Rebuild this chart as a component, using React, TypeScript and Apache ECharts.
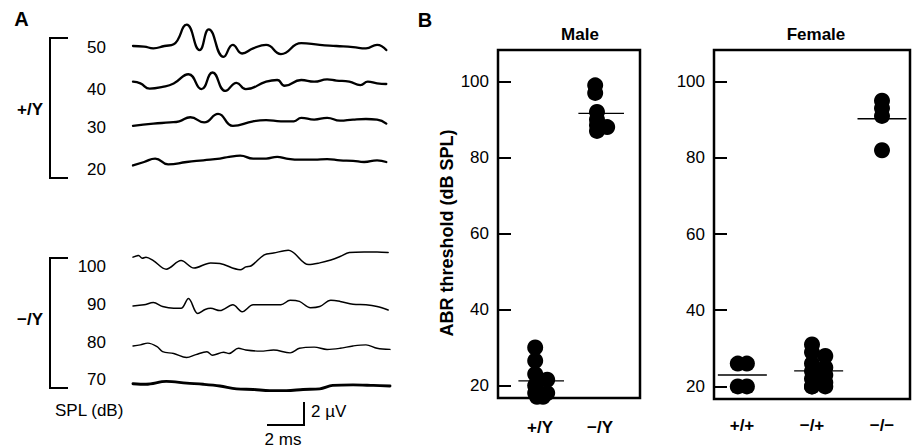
import React, { useEffect, useRef } from "react";
import * as echarts from "echarts";

const FONT = '"Liberation Sans", Arial, Helvetica, sans-serif';

// ---------- Panel A: ABR traces, points are [time (ms), amplitude (µV)] ----------
const wtLevels = ["50", "40", "30", "20"];
const koLevels = ["100", "90", "80", "70"];

const wt50 = [[0,0],[0.6,-0.05],[1.1,-0.2],[1.7,0],[2.2,0.15],[2.9,1.85],[3.6,-0.35],[4.1,1.45],[4.9,-0.95],[5.4,0.1],[5.9,-0.65],[6.5,-0.2],[7.2,0.1],[8.0,-0.7],[9.1,0.25],[10.1,0.1],[11.0,0],[11.9,-0.1],[12.6,-0.2],[13.2,0.1],[13.7,-0.35]];
const wt40 = [[0,0.2],[0.4,0.05],[0.9,-0.4],[1.6,-0.25],[2.2,0.05],[3.0,0.85],[3.7,-0.45],[4.3,1.0],[5.0,-0.6],[5.6,0.1],[6.1,-0.45],[7.2,0.2],[7.8,0.35],[8.2,-0.15],[9.1,0.35],[9.8,0.2],[10.5,0.4],[11.0,0.3],[11.7,0.2],[12.3,-0.1],[12.7,0.2],[13.2,0.05],[13.7,0]];
const wt30 = [[0,-0.25],[1.1,-0.05],[2.0,0.05],[2.5,0.15],[3.1,0.5],[3.85,0.05],[4.6,0.8],[5.4,-0.25],[6.5,0.15],[7.2,0.25],[8.0,0.15],[8.7,0.15],[9.1,0.45],[9.8,0.3],[10.5,0.45],[11.2,0.2],[11.9,0.3],[12.6,0.35],[13.2,0.3],[13.7,-0.05]];
const wt20 = [[0,-0.3],[0.6,0],[1.2,0.3],[1.9,-0.2],[2.9,0],[3.8,0.15],[4.7,0.3],[5.2,0.45],[5.8,0.55],[6.5,0.3],[7.2,0.3],[7.8,0.45],[8.3,0.3],[9.0,0.2],[9.8,0.2],[10.5,0.25],[11.2,0.15],[11.9,0.1],[12.5,0],[13.2,0.15],[13.7,0]];

const ko100 = [[0,0.25],[0.3,0.4],[0.5,0.15],[0.7,0.25],[1.1,-0.05],[1.8,-0.8],[2.6,-0.05],[3.3,-0.7],[4.2,-0.25],[4.7,-0.3],[5.8,-0.85],[6.1,-0.6],[6.4,-0.5],[7.1,0.45],[7.6,0.6],[8.4,0.85],[9.5,-0.4],[10.1,-0.25],[10.7,0],[11.2,0.3],[11.7,0.65],[12.5,0.7],[13.2,0.7],[13.8,0.65]];
const ko90 = [[0,0],[0.6,0.1],[1.1,0.3],[1.6,-0.05],[2.2,-0.2],[2.6,-0.2],[3.0,0.65],[3.5,-0.65],[3.9,-0.3],[4.2,-0.2],[4.7,-0.4],[5.4,0.1],[5.9,-0.5],[6.5,0.1],[7.2,0.1],[8.0,0.1],[8.5,0.5],[9.0,0.4],[9.6,-0.15],[10.1,-0.05],[10.7,0.5],[11.2,0.4],[11.9,0.15],[12.6,0.1],[13.2,-0.05],[13.8,-0.35]];
const ko80 = [[0,0.35],[0.4,0.45],[0.8,0.6],[1.3,0.3],[1.6,-0.15],[2.2,-0.3],[2.9,-0.65],[3.4,-0.4],[4.0,-0.15],[4.3,-0.45],[4.9,-0.2],[5.2,-0.3],[5.7,0.15],[6.1,0],[6.9,-0.1],[7.6,0],[8.5,-0.25],[9.0,0.15],[9.8,0.25],[10.5,0.05],[11.2,0.15],[11.9,0.35],[12.6,0.45],[13.2,0.15],[13.9,0.05]];
const ko70 = [[0,0.2],[0.7,0.15],[1.8,0.4],[2.9,0.25],[3.8,0.15],[4.7,0],[5.6,-0.25],[6.5,-0.3],[7.4,-0.4],[8.3,-0.4],[9.2,-0.3],[10.1,-0.25],[10.8,0.05],[11.9,0.1],[13.0,0.05],[13.9,0]];

const wtTraces = [wt50, wt40, wt30, wt20];
const koTraces = [ko100, ko90, ko80, ko70];

// ---------- Panel B: ABR thresholds (dB SPL) ----------
const maleCategories = ["+/Y", "\u2212/Y"];
const maleWT = [30, 26.5, 23, 21.5, 20, 18, 18, 17, 17];
const maleKO = [99, 97, 92, 90, 88.5, 87, 88];
const femaleCategories = ["+/+", "\u2212/+", "\u2212/\u2212"];
const femaleWT = [26, 26, 20, 20];
const femaleHet = [31, 29, 26, 24, 22, 20, 20, 28, 25, 23, 21, 20];
const femaleKO = [95, 93, 91, 82];
const thresholdTicks = [20, 40, 60, 80, 100];

// horizontal spread of dots within a group (category units)
const maleWTSpread = [-0.08, -0.08, -0.08, 0.12, -0.08, -0.08, 0.12, -0.05, 0.05];
const maleKOSpread = [-0.08, -0.08, -0.05, -0.05, -0.05, -0.05, 0.12];
const femaleWTSpread = [-0.06, 0.07, -0.06, 0.07];
const femaleHetSpread = [0, 0, 0, 0, 0, 0, 0, 0.19, 0.19, 0.19, 0.19, 0.19];
const femaleKOSpread = [0, 0, 0, 0];

export default function App() {
  const ref = useRef<HTMLDivElement>(null);

  useEffect(() => {
    if (!ref.current) return;
    const chart = echarts.init(ref.current, undefined, { renderer: "svg" });

    const grids: any[] = [];
    const xAxes: any[] = [];
    const yAxes: any[] = [];
    const series: any[] = [];

    const traceLeft = 133;
    const traceWidth = 257;
    const traceHeight = 46;
    const wtBases = [46, 84, 123, 162];
    const koBases = [260, 306, 350, 386];
    const koWidths = [1.5, 1.5, 1.4, 2.9];

    const addTrace = (data: number[][], base: number, width: number, smooth: number) => {
      const idx = grids.length;
      grids.push({ left: traceLeft, top: base - traceHeight / 2, width: traceWidth, height: traceHeight });
      xAxes.push({ type: "value", gridIndex: idx, min: 0, max: 13.9, show: false });
      yAxes.push({ type: "value", gridIndex: idx, min: -2, max: 2, show: false });
      series.push({
        type: "line",
        xAxisIndex: idx,
        yAxisIndex: idx,
        data,
        symbol: "none",
        smooth,
        lineStyle: { color: "#000", width, cap: "round", join: "round" },
        silent: true,
      });
    };
    wtTraces.forEach((d, i) => addTrace(d, wtBases[i], 2.3, 0.5));
    koTraces.forEach((d, i) => addTrace(d, koBases[i], koWidths[i], 0.35));

    const addScatterPanel = (
      box: { left: number; top: number; width: number; height: number },
      xMin: number,
      xMax: number,
      cats: string[],
      groups: { values: number[]; spread: number[] }[],
      halfWidth: number,
      labelMargin: number
    ) => {
      const idx = grids.length;
      grids.push({ ...box, show: true, borderColor: "#000", borderWidth: 2.5, backgroundColor: "transparent" });
      xAxes.push({
        type: "value",
        gridIndex: idx,
        min: xMin,
        max: xMax,
        axisLine: { show: false },
        axisTick: { show: false },
        splitLine: { show: false },
        axisLabel: {
          customValues: cats.map((_, i) => i + 1),
          formatter: (v: number) => cats[Math.round(v) - 1] ?? "",
          fontFamily: FONT,
          fontSize: 17,
          fontWeight: "bold",
          color: "#000",
          margin: labelMargin,
        },
      });
      yAxes.push({
        type: "value",
        gridIndex: idx,
        min: 16.7,
        max: 108.3,
        axisLine: { show: false },
        splitLine: { show: false },
        axisTick: {
          show: true,
          inside: true,
          length: 13,
          customValues: thresholdTicks,
          lineStyle: { color: "#000", width: 2 },
        },
        axisLabel: {
          customValues: thresholdTicks,
          fontFamily: FONT,
          fontSize: 17,
          color: "#000",
          margin: 9,
        },
      });
      groups.forEach((g, gi) => {
        const pos = gi + 1;
        const pts = g.values.map((v, i) => [pos + g.spread[i], v]);
        series.push({
          type: "scatter",
          xAxisIndex: idx,
          yAxisIndex: idx,
          data: pts,
          symbol: "circle",
          symbolSize: 16,
          clip: false,
          itemStyle: { color: "#000", opacity: 1, borderWidth: 0 },
          silent: true,
        });
        const mean = g.values.reduce((a, b) => a + b, 0) / g.values.length;
        const c = pos + (Math.min(...g.spread) + Math.max(...g.spread)) / 2;
        series.push({
          type: "line",
          xAxisIndex: idx,
          yAxisIndex: idx,
          data: [
            [c - halfWidth, mean],
            [c + halfWidth, mean],
          ],
          symbol: "none",
          lineStyle: { color: "#000", width: 1.3 },
          silent: true,
          z: 3,
        });
      });
    };

    addScatterPanel(
      { left: 498, top: 50, width: 142, height: 348 },
      0.3,
      2.667,
      maleCategories,
      [
        { values: maleWT, spread: maleWTSpread },
        { values: maleKO, spread: maleKOSpread },
      ],
      0.38,
      21
    );
    addScatterPanel(
      { left: 714, top: 50, width: 196, height: 349 },
      0.6,
      3.4,
      femaleCategories,
      [
        { values: femaleWT, spread: femaleWTSpread },
        { values: femaleHet, spread: femaleHetSpread },
        { values: femaleKO, spread: femaleKOSpread },
      ],
      0.35,
      18
    );

    const txt = (text: string, x: number, y: number, opts: any = {}) => ({
      type: "text",
      x,
      y,
      rotation: opts.rotation ?? 0,
      silent: true,
      style: {
        text,
        fill: "#000",
        font: `${opts.bold ? "bold " : ""}${opts.size ?? 17}px ${FONT}`,
        textAlign: opts.align ?? "center",
        textVerticalAlign: "middle",
      },
    });

    const wtLabelY = [47.5, 89, 127, 169];
    const koLabelY = [266.7, 304, 342, 379];

    const graphic: any[] = [
      txt("A", 21.5, 19, { bold: true, size: 20 }),
      txt("B", 425, 20, { bold: true, size: 20 }),
      txt("+/Y", 30, 109, { bold: true }),
      txt("\u2212/Y", 30, 319, { bold: true }),
      ...wtLevels.map((l, i) => txt(l, 106, wtLabelY[i], { align: "right" })),
      ...koLevels.map((l, i) => txt(l, 106, koLabelY[i], { align: "right" })),
      txt("SPL (dB)", 55, 410, { align: "left" }),
      txt("2 \u00b5V", 311, 411, { align: "left" }),
      txt("2 ms", 283, 439),
      txt("Male", 580, 34, { bold: true }),
      txt("Female", 816, 34, { bold: true }),
      txt("ABR threshold (dB SPL)", 447, 233, { bold: true, size: 18, rotation: Math.PI / 2 }),
      {
        type: "polyline",
        silent: true,
        shape: { points: [[68, 38], [50, 38], [50, 178], [68, 178]] },
        style: { stroke: "#000", lineWidth: 2, fill: null },
      },
      {
        type: "polyline",
        silent: true,
        shape: { points: [[68, 258], [50, 258], [50, 388], [68, 388]] },
        style: { stroke: "#000", lineWidth: 2, fill: null },
      },
      {
        type: "polyline",
        silent: true,
        shape: { points: [[304, 402], [304, 425], [267, 425]] },
        style: { stroke: "#000", lineWidth: 2, fill: null },
      },
    ];

    chart.setOption({
      animation: false,
      backgroundColor: "#fff",
      textStyle: { fontFamily: FONT },
      grid: grids,
      xAxis: xAxes,
      yAxis: yAxes,
      series,
      graphic,
    });

    return () => chart.dispose();
  }, []);

  return (
    <div
      ref={ref}
      style={{ position: "fixed", left: 0, top: 0, width: 917, height: 448, background: "#fff" }}
    />
  );
}
